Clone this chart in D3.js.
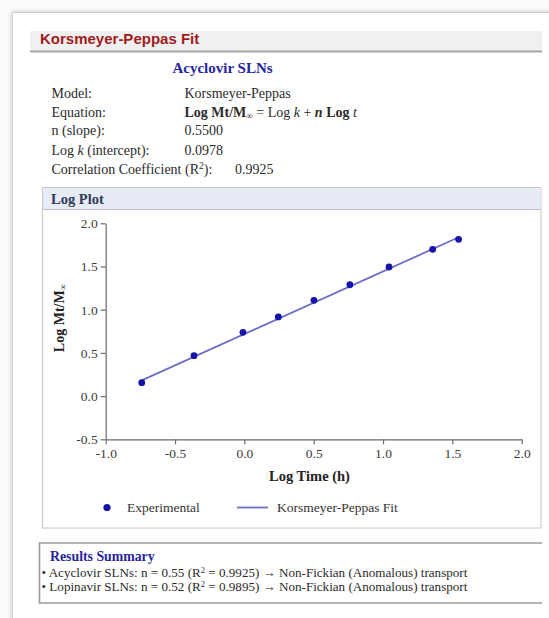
<!DOCTYPE html>
<html>
<head>
<meta charset="utf-8">
<script src="https://cdn.jsdelivr.net/npm/d3@7"></script>
<style>
  html, body { margin: 0; padding: 0; background: #ffffff; }
  svg { display: block; }
  .serif { font-family: "Liberation Serif", "Times New Roman", serif; }
</style>
</head>
<body>
<svg id="chart" width="549" height="618"></svg>
<script>
// ---- data ----
const logTime = [-0.74, -0.363, -0.01, 0.245, 0.502, 0.761, 1.043, 1.358, 1.545];
const logRelease = [0.155, 0.468, 0.738, 0.916, 1.109, 1.289, 1.494, 1.699, 1.815];
const fitLogTime = [-0.74, 1.545];
const fitLogRelease = [0.182, 1.838];
const xTicks = [-1.0, -0.5, 0.0, 0.5, 1.0, 1.5, 2.0];
const yTicks = [-0.5, 0.0, 0.5, 1.0, 1.5, 2.0];
const xDomain = [-1.0, 2.0];
const yDomain = [-0.5, 2.0];

const panelTitle = "Korsmeyer-Peppas Fit";
const formulation = "Acyclovir SLNs";
const paramLabels = ["Model:", "Equation:", "n (slope):", "Log k (intercept):", "Correlation Coefficient (R²):"];
const paramValues = ["Korsmeyer-Peppas", "equation", "0.5500", "0.0978", "0.9925"];
const legendLabels = ["Experimental", "Korsmeyer-Peppas Fit"];
const summaryTitle = "Results Summary";
const summaryNames = ["Acyclovir SLNs", "Lopinavir SLNs"];
const summaryN = ["0.55", "0.52"];
const summaryR2 = ["0.9925", "0.9895"];
const summaryMechanism = ["Non-Fickian (Anomalous) transport", "Non-Fickian (Anomalous) transport"];

// ---- styles ----
const dotColor = "#1414a8";
const lineColor = "#6e6ec8";
const textColor = "#2b2b2b";
const blue = "#2626a0";

const svg = d3.select("#chart");
const defs = svg.append("defs");
const shadow = defs.append("filter").attr("id", "cardShadow")
  .attr("x", "-5%").attr("y", "-5%").attr("width", "110%").attr("height", "110%");
shadow.append("feDropShadow").attr("dx", 0).attr("dy", 0)
  .attr("stdDeviation", 2.4).attr("flood-color", "#000").attr("flood-opacity", 0.25);

// page card
svg.append("rect").attr("x", 0).attr("y", 0).attr("width", 549).attr("height", 618).attr("fill", "#fcfcfc");
svg.append("rect").attr("x", 12.5).attr("y", 12.5).attr("width", 580).attr("height", 660)
  .attr("fill", "#ffffff").attr("stroke", "#d2d2d2").attr("filter", "url(#cardShadow)");

// title bar
svg.append("rect").attr("x", 30).attr("y", 31).attr("width", 512).attr("height", 20).attr("fill", "#f0f0f0");
svg.append("line").attr("x1", 30).attr("x2", 542).attr("y1", 51.5).attr("y2", 51.5)
  .attr("stroke", "#a6a6a6").attr("stroke-width", 2);
svg.append("text").attr("x", 40).attr("y", 43.5)
  .attr("font-family", "'Liberation Sans', Arial, sans-serif").attr("font-weight", "bold")
  .attr("font-size", 15).attr("fill", "#a01c20").text(panelTitle);

// formulation heading
svg.append("text").attr("class", "serif").attr("x", 222.5).attr("y", 73)
  .attr("text-anchor", "middle").attr("font-weight", "bold").attr("font-size", 15)
  .attr("fill", blue).text(formulation);

// parameter table
const rowY = [98, 116.5, 135, 154.5, 173.5];
const params = svg.append("g").attr("class", "serif").attr("font-size", 14).attr("fill", textColor);
paramLabels.forEach((lab, i) => {
  const t = params.append("text").attr("x", 51.5).attr("y", rowY[i]);
  if (lab.startsWith("Log k")) {
    t.append("tspan").text("Log ");
    t.append("tspan").attr("font-style", "italic").text("k");
    t.append("tspan").text(" (intercept):");
  } else if (lab.startsWith("Correlation")) {
    t.append("tspan").text("Correlation Coefficient (R");
    t.append("tspan").attr("font-size", 9.5).attr("dy", -5).text("2");
    t.append("tspan").attr("dy", 5).text("):");
  } else {
    t.text(lab);
  }
});
paramValues.forEach((val, i) => {
  const x = i === 4 ? 235 : 184.5;
  const t = params.append("text").attr("x", x).attr("y", rowY[i]);
  if (val === "equation") {
    t.append("tspan").attr("font-weight", "bold").text("Log Mt/M");
    t.append("tspan").attr("font-weight", "bold").attr("font-size", 9).attr("dy", 2).text("∞");
    t.append("tspan").attr("dy", -2).text(" = Log ");
    t.append("tspan").attr("font-style", "italic").text("k");
    t.append("tspan").text(" + ");
    t.append("tspan").attr("font-style", "italic").attr("font-weight", "bold").text("n");
    t.append("tspan").attr("font-weight", "bold").text(" Log ");
    t.append("tspan").attr("font-style", "italic").text("t");
  } else {
    t.text(val);
  }
});

// plot panel
const panel = { x: 42.5, y: 187.5, w: 498.5, h: 340.5 };
svg.append("rect").attr("x", panel.x).attr("y", panel.y).attr("width", panel.w).attr("height", panel.h)
  .attr("fill", "#ffffff").attr("stroke", "#c6c6c6");
svg.append("rect").attr("x", panel.x + 0.5).attr("y", panel.y + 0.5).attr("width", panel.w - 1).attr("height", 21.5)
  .attr("fill", "#e6ebf5");
svg.append("line").attr("x1", panel.x).attr("x2", panel.x + panel.w).attr("y1", 209.5).attr("y2", 209.5)
  .attr("stroke", "#b9c0cc");
svg.append("text").attr("class", "serif").attr("x", 51).attr("y", 203.5)
  .attr("font-weight", "bold").attr("font-size", 14.5).attr("fill", "#2f3a58").text("Log Plot");

// scales
const x = d3.scaleLinear().domain(xDomain).range([105.7, 521.7]);
const y = d3.scaleLinear().domain(yDomain).range([439.3, 223.3]);
const fmt = d => d.toFixed(1);

const xAxis = svg.append("g").attr("transform", `translate(0,${y(yDomain[0])})`)
  .call(d3.axisBottom(x).tickValues(xTicks).tickFormat(fmt).tickSize(5).tickSizeOuter(0).tickPadding(4));
const yAxis = svg.append("g").attr("transform", `translate(${x(xDomain[0])},0)`)
  .call(d3.axisLeft(y).tickValues(yTicks).tickFormat(fmt).tickSize(5).tickSizeOuter(0).tickPadding(3));
[xAxis, yAxis].forEach(g => {
  g.select(".domain").attr("stroke", "#6a6a6a").attr("stroke-width", 1.2);
  g.selectAll(".tick line").attr("stroke", "#6a6a6a").attr("stroke-width", 1.2);
  g.selectAll(".tick text").attr("font-family", "'Liberation Serif', serif").attr("font-size", 13.5).attr("fill", "#3c3c3c");
});

// fitted line
const fitData = fitLogTime.map((t, i) => [t, fitLogRelease[i]]);
svg.append("path").datum(fitData)
  .attr("d", d3.line().x(d => x(d[0])).y(d => y(d[1])))
  .attr("fill", "none").attr("stroke", lineColor).attr("stroke-width", 1.8);

// experimental points
svg.append("g").selectAll("circle").data(logTime.map((t, i) => [t, logRelease[i]])).join("circle")
  .attr("cx", d => x(d[0])).attr("cy", d => y(d[1])).attr("r", 3.4).attr("fill", dotColor);

// axis titles
svg.append("text").attr("class", "serif").attr("x", 309.5).attr("y", 481)
  .attr("text-anchor", "middle").attr("font-weight", "bold").attr("font-size", 14.5)
  .attr("fill", "#222").text("Log Time (h)");
const yt = svg.append("text").attr("class", "serif")
  .attr("transform", "translate(64,318) rotate(-90)")
  .attr("text-anchor", "middle").attr("font-weight", "bold").attr("font-size", 14)
  .attr("fill", "#222");
yt.append("tspan").text("Log Mt/M");
yt.append("tspan").attr("font-size", 9).attr("dy", 2).text("∞");

// legend
const legend = svg.append("g").attr("class", "serif").attr("font-size", 13.5).attr("fill", "#333");
legend.append("circle").attr("cx", 107).attr("cy", 507.5).attr("r", 3.6).attr("fill", dotColor);
legend.append("text").attr("x", 127).attr("y", 512).text(legendLabels[0]);
legend.append("line").attr("x1", 237).attr("x2", 268).attr("y1", 507.5).attr("y2", 507.5)
  .attr("stroke", lineColor).attr("stroke-width", 1.8);
legend.append("text").attr("x", 277).attr("y", 512).text(legendLabels[1]);

// results summary box
svg.append("path").attr("d", "M542,543 H39.5 V603 H542")
  .attr("fill", "#ffffff").attr("stroke", "#9a9a9a").attr("stroke-width", 1.6);
svg.append("text").attr("class", "serif").attr("x", 50).attr("y", 561)
  .attr("font-weight", "bold").attr("font-size", 13.8).attr("fill", blue).text(summaryTitle);
const summary = svg.append("g").attr("class", "serif").attr("font-size", 13.1).attr("fill", "#2b2b2b");
summaryNames.forEach((name, i) => {
  const t = summary.append("text").attr("x", 41.5).attr("y", 577 + i * 14);
  t.append("tspan").text(`• ${name}: n = ${summaryN[i]} (R`);
  t.append("tspan").attr("font-size", 8.5).attr("dy", -4.5).text("2");
  t.append("tspan").attr("dy", 4.5).text(` = ${summaryR2[i]}) → ${summaryMechanism[i]}`);
});
</script>
</body>
</html>
